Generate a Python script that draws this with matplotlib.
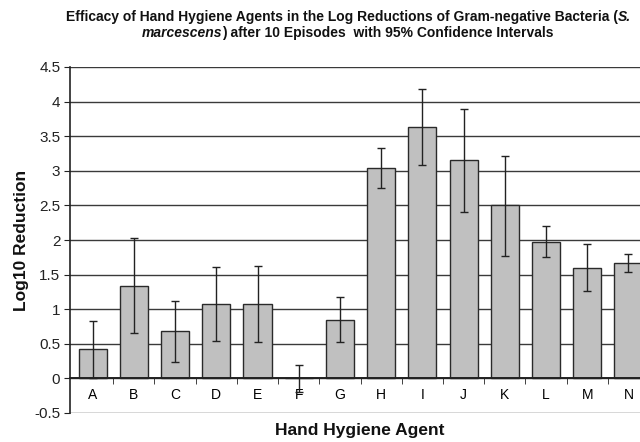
import matplotlib
matplotlib.use("Agg")
import matplotlib.pyplot as plt
import numpy as np

plt.rcParams['font.family'] = ['Liberation Sans', 'DejaVu Sans']

categories = ["A", "B", "C", "D", "E", "F", "G", "H", "I", "J", "K", "L", "M", "N"]
means = [0.42, 1.34, 0.68, 1.08, 1.07, 0.01, 0.85, 3.04, 3.64, 3.15, 2.50, 1.97, 1.59, 1.67]
ci_upper = [0.83, 2.03, 1.12, 1.61, 1.63, 0.20, 1.17, 3.33, 4.18, 3.89, 3.21, 2.20, 1.94, 1.80]
ci_lower = [0.01, 0.66, 0.23, 0.54, 0.52, -0.20, 0.52, 2.75, 3.08, 2.40, 1.77, 1.76, 1.26, 1.54]
yticks = [-0.5, 0, 0.5, 1, 1.5, 2, 2.5, 3, 3.5, 4, 4.5]
ytick_labels = ["-0.5", "0", "0.5", "1", "1.5", "2", "2.5", "3", "3.5", "4", "4.5"]

W, H = 640, 442
fig = plt.figure(figsize=(W / 100, H / 100), dpi=100)
ax = fig.add_axes([70 / W, (H - 413) / H, 579 / W, 346 / H])

x = np.arange(len(categories))
m = np.array(means)
up = np.array(ci_upper) - m
lo = m - np.array(ci_lower)

ax.set_axisbelow(True)
for yv in yticks:
    ax.axhline(yv, color="#3a3a3a", lw=1.0, zorder=0)
ax.bar(x, m, width=0.68, color="#c0c0c0", edgecolor="#2a2a2a", linewidth=1.0, zorder=2)
ax.errorbar(x, m, yerr=[lo, up], fmt="none", ecolor="#222222", elinewidth=1.0,
            capsize=3, capthick=1.0, zorder=3)
ax.axhline(0, color="#222222", lw=1.2, zorder=2.5)

ax.set_xlim(-0.55, 13.5)
ax.set_ylim(-0.5, 4.5)
ax.set_yticks(yticks)
ax.set_yticklabels(ytick_labels, fontsize=11, color="#222222")
ax.set_xticks(x)
ax.set_xticklabels(categories, fontsize=11, color="#222222")
ax.tick_params(axis="x", length=0, pad=7)
ax.set_xticks(np.arange(0.5, 13.5, 1), minor=True)
ax.tick_params(axis="x", which="minor", length=4, direction="out", color="#222222")
ax.tick_params(axis="y", length=4, direction="out", color="#222222", pad=3)
for s in ["top", "right"]:
    ax.spines[s].set_visible(False)
ax.spines["left"].set_color("#222222")
ax.spines["left"].set_linewidth(1.2)
ax.spines["bottom"].set_position(("data", 0))
ax.spines["bottom"].set_color("#222222")
ax.spines["bottom"].set_linewidth(1.2)

fig.text(22 / W, 1 - 240 / H, "Log10 Reduction", rotation=90, ha="center", va="center",
         fontsize=12.5, fontweight="bold", color="#111111")
fig.text(360 / W, 1 - 430 / H, "Hand Hygiene Agent", ha="center", va="center",
         fontsize=12.5, fontweight="bold", color="#111111")

# Title with mixed italics
def draw_line(pieces, xc, yc, fs):
    fig.canvas.draw()
    r = fig.canvas.get_renderer()
    texts = []
    total = 0
    for s, style in pieces:
        t = fig.text(0, yc, s, fontsize=fs, fontweight="bold", fontstyle=style,
                     ha="left", va="center", color="#111111")
        bb = t.get_window_extent(renderer=r)
        texts.append((t, bb.width))
        total += bb.width
    xpos = xc * W - total / 2
    for t, w in texts:
        t.set_x(xpos / W)
        xpos += w

fs_t = 10
draw_line([("Efficacy of Hand Hygiene Agents in the Log Reductions of Gram-negative Bacteria (", "normal"),
           ("S.", "italic")], 348 / W, 1 - 17 / H, fs_t)
draw_line([("marcescens", "italic"), (") after 10 Episodes  with 95% Confidence Intervals", "normal")],
          348 / W, 1 - 33 / H, fs_t)

fig.savefig("out.png", dpi=100)
